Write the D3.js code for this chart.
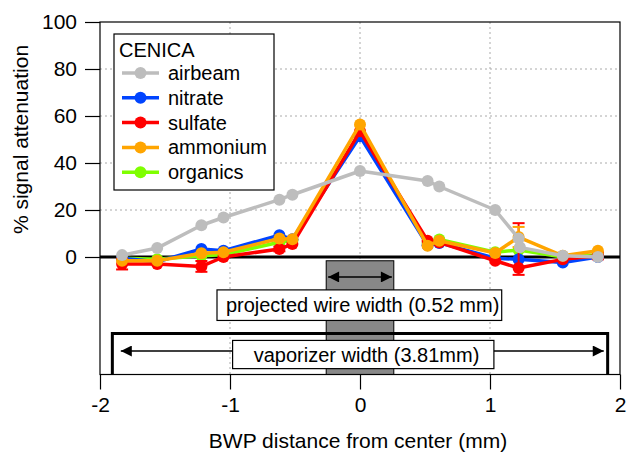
<!DOCTYPE html>
<html><head><meta charset="utf-8">
<script src="https://cdn.jsdelivr.net/npm/d3@7"></script>
<style>body{margin:0;background:#fff}svg{display:block;font-family:"Liberation Sans",Arial,sans-serif}</style>
</head><body>
<svg id="c" width="627" height="456"></svg>
<script>
// ---- data ----
const xPos = [-1.83, -1.56, -1.22, -1.05, -0.62, -0.52, 0, 0.52, 0.61, 1.04, 1.22, 1.56, 1.83];
const airbeamX = [-1.83, -1.56, -1.22, -1.05, -0.62, -0.52, 0, 0.52, 0.61, 1.04, 1.22, 1.23, 1.56, 1.83];
const airbeam  = [0.8, 3.8, 13.5, 16.8, 24.4, 26.5, 36.6, 32.3, 30, 20, 7.9, 4.1, 0.5, 0];
const nitrate  = [-0.5, -2, 3.4, 2.7, 9.3, 7.6, 51.4, 5, 6, -0.5, -1, -2.3, 0];
const sulfate  = [-3, -3, -4, 0, 3.4, 5.5, 53.5, 6.9, 6.2, -1.6, -4.7, -1, 0.5];
const sulfateErrLo = [2.3, 0, 2.3, 0, 1, 0, 0, 0, 0, 0, 2.9, 0, 1.5];
const sulfateErrHi = [2.3, 0, 2.3, 0, 1, 0, 0, 0, 0, 0, 19.1, 0, 1.5];
const ammonium = [-1.6, -1.6, 1.6, 2, 7.9, 7.6, 56.4, 4.8, 6.9, 1.7, 8.5, 0.5, 2.7];
const ammoniumErr = [0, 0, 0, 0, 0, 0, 0, 0, 0, 0, 4.3, 0, 0];
const organics = [-0.5, -1, 0.5, 1, 6.3, 7, 52.5, 6, 7.5, 2, 3, 0, 1];
const yTicks = [0, 20, 40, 60, 80, 100];
const xTicks = [-2, -1, 0, 1, 2];
const wireHalf = 0.26, vapHalf = 1.905;

const svg = d3.select("#c");
const x = d3.scaleLinear().domain([-2, 2]).range([100, 620]);
const y = d3.scaleLinear().domain([-50, 100]).range([374.5, 22]);

// grid
const g = svg.append("g");
g.selectAll(".gx").data([-1, 0, 1]).join("line")
  .attr("x1", d => x(d)).attr("x2", d => x(d)).attr("y1", y(100)).attr("y2", y(-50))
  .attr("stroke", "#aaa").attr("stroke-dasharray", "2,3");
g.selectAll(".gy").data([20, 40, 60, 80]).join("line")
  .attr("x1", x(-2)).attr("x2", x(2)).attr("y1", d => y(d)).attr("y2", d => y(d))
  .attr("stroke", "#aaa").attr("stroke-dasharray", "2,3");

// annotations
svg.append("rect").attr("x", x(-wireHalf)).attr("y", y(-1.6))
  .attr("width", x(wireHalf) - x(-wireHalf)).attr("height", y(-50) - y(-1.6))
  .attr("fill", "#888").attr("stroke", "#000").attr("stroke-width", 1);

const defs = svg.append("defs");
defs.append("marker").attr("id", "ah").attr("viewBox", "0 0 10 10").attr("refX", 10).attr("refY", 5)
  .attr("markerWidth", 16).attr("markerHeight", 11).attr("markerUnits", "userSpaceOnUse")
  .attr("orient", "auto-start-reverse")
  .append("path").attr("d", "M0,0L10,5L0,10Z").attr("fill", "#000");

svg.append("line").attr("x1", x(-0.245)).attr("x2", x(0.245)).attr("y1", y(-8.5)).attr("y2", y(-8.5))
  .attr("stroke", "#000").attr("stroke-width", 1.5)
  .attr("marker-start", "url(#ah)").attr("marker-end", "url(#ah)");

svg.append("rect").attr("x", x(-1.1)).attr("y", y(-14)).attr("width", x(1.09) - x(-1.1))
  .attr("height", y(-27) - y(-14)).attr("fill", "#fff").attr("stroke", "#000").attr("stroke-width", 1.2);
svg.append("text").attr("x", x(0.02)).attr("y", y(-20.5)).attr("dy", "0.35em").attr("text-anchor", "middle")
  .attr("font-size", 20).text("projected wire width (0.52 mm)");

// vaporizer bracket
svg.append("path").attr("d", `M${x(-vapHalf)},${y(-50)}V${y(-32.5)}H${x(vapHalf)}V${y(-50)}`)
  .attr("fill", "none").attr("stroke", "#000").attr("stroke-width", 3);
svg.append("line").attr("x1", x(-1.84)).attr("x2", x(1.875)).attr("y1", y(-40)).attr("y2", y(-40))
  .attr("stroke", "#000").attr("stroke-width", 1.5)
  .attr("marker-start", "url(#ah)").attr("marker-end", "url(#ah)");
svg.append("rect").attr("x", x(-0.98)).attr("y", y(-35.5)).attr("width", x(1.03) - x(-0.98))
  .attr("height", y(-47.5) - y(-35.5)).attr("fill", "#fff").attr("stroke", "#000").attr("stroke-width", 1.2);
svg.append("text").attr("x", x(0.05)).attr("y", y(-41.5)).attr("dy", "0.35em").attr("text-anchor", "middle")
  .attr("font-size", 20).text("vaporizer width (3.81mm)");

// frame and zero line
svg.append("rect").attr("x", x(-2)).attr("y", y(100)).attr("width", x(2) - x(-2)).attr("height", y(-50) - y(100))
  .attr("fill", "none").attr("stroke", "#000").attr("stroke-width", 1.2);
svg.append("line").attr("x1", x(-2)).attr("x2", x(2)).attr("y1", y(0)).attr("y2", y(0))
  .attr("stroke", "#000").attr("stroke-width", 3);

// axes
const yAxis = svg.append("g").attr("transform", `translate(${x(-2)},0)`)
  .call(d3.axisLeft(y).tickValues(yTicks).tickSize(15).tickPadding(8));
const xAxis = svg.append("g").attr("transform", `translate(0,${y(-50)})`)
  .call(d3.axisBottom(x).tickValues(xTicks).tickSize(15).tickPadding(8).tickFormat(d3.format("d")));
[yAxis, xAxis].forEach(a => {
  a.select(".domain").remove();
  a.selectAll("line").attr("stroke", "#000").attr("stroke-width", 1.2);
  a.selectAll("text").attr("font-size", 21).attr("fill", "#000")
    .attr("font-family", '"Liberation Sans",Arial,sans-serif');
});
xAxis.selectAll("text").text(d => d < 0 ? "-" + Math.abs(d) : d);

svg.append("text").attr("transform", `translate(28,${y(50)}) rotate(-90)`).attr("text-anchor", "middle")
  .attr("font-size", 21).text("% signal attenuation");
svg.append("text").attr("x", 358).attr("y", 448).attr("text-anchor", "middle")
  .attr("font-size", 21).text("BWP distance from center (mm)");

// series
const series = [
  {name: "organics", color: "#7fff00", xs: xPos, ys: organics},
  {name: "nitrate", color: "#0044ff", xs: xPos, ys: nitrate},
  {name: "sulfate", color: "#ff0000", xs: xPos, ys: sulfate, lo: sulfateErrLo, hi: sulfateErrHi},
  {name: "ammonium", color: "#ffa500", xs: xPos, ys: ammonium, lo: ammoniumErr, hi: ammoniumErr},
  {name: "airbeam", color: "#bdbdbd", xs: airbeamX, ys: airbeam}
];
const line = d3.line().x(d => x(d[0])).y(d => y(d[1]));
series.forEach(s => {
  const pts = s.xs.map((v, i) => [v, s.ys[i], s.lo ? s.lo[i] : 0, s.hi ? s.hi[i] : 0]);
  const sg = svg.append("g");
  pts.filter(p => p[2] > 0 || p[3] > 0).forEach(p => {
    const xx = x(p[0]);
    sg.append("line").attr("x1", xx).attr("x2", xx).attr("y1", y(p[1] - p[2])).attr("y2", y(p[1] + p[3]))
      .attr("stroke", s.color).attr("stroke-width", 2);
    [p[1] - p[2], p[1] + p[3]].forEach(v => sg.append("line").attr("x1", xx - 6).attr("x2", xx + 6)
      .attr("y1", y(v)).attr("y2", y(v)).attr("stroke", s.color).attr("stroke-width", 2));
  });
  sg.append("path").datum(pts).attr("d", line).attr("fill", "none").attr("stroke", s.color)
    .attr("stroke-width", 3.5).attr("stroke-linejoin", "round");
  sg.selectAll("circle").data(pts).join("circle").attr("cx", d => x(d[0])).attr("cy", d => y(d[1]))
    .attr("r", 6).attr("fill", s.color);
});

// legend
const legendNames = ["airbeam", "nitrate", "sulfate", "ammonium", "organics"];
const lg = svg.append("g");
lg.append("rect").attr("x", 114).attr("y", 34).attr("width", 160).attr("height", 156)
  .attr("fill", "#fff").attr("stroke", "#000").attr("stroke-width", 1.2);
lg.append("text").attr("x", 119).attr("y", 57).attr("font-size", 20).text("CENICA");
legendNames.forEach((n, i) => {
  const s = series.find(t => t.name === n);
  const yy = 73 + i * 24.8;
  lg.append("line").attr("x1", 122).attr("x2", 159).attr("y1", yy).attr("y2", yy)
    .attr("stroke", s.color).attr("stroke-width", 3.5);
  lg.append("circle").attr("cx", 140.5).attr("cy", yy).attr("r", 6).attr("fill", s.color);
  lg.append("text").attr("x", 168).attr("y", yy).attr("dy", "0.35em").attr("font-size", 20).text(n);
});
</script>
</body></html>
